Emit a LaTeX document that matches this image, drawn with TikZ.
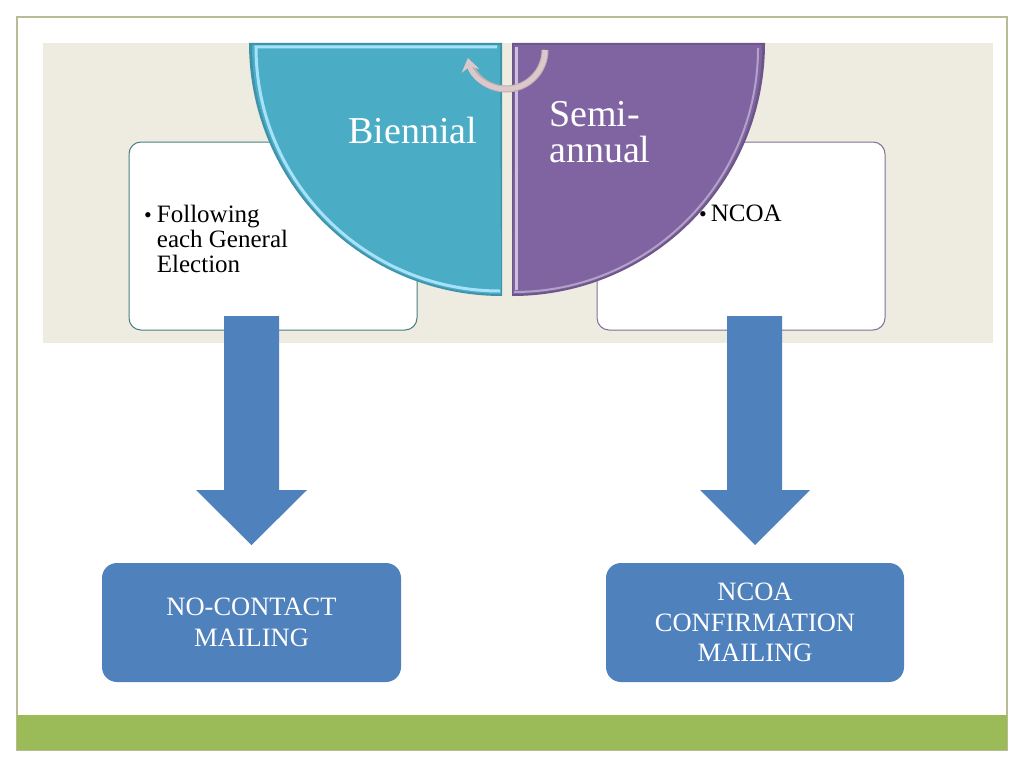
\documentclass[tikz,border=0pt]{standalone}
\usepackage{fontspec}
\setmainfont{Liberation Serif}
\usetikzlibrary{arrows.meta}
\definecolor{beige}{HTML}{EEECE1}
\definecolor{framec}{HTML}{B9BC92}
\definecolor{greenbar}{HTML}{9BBB59}
\definecolor{cyanq}{HTML}{4BACC6}
\definecolor{purpleq}{HTML}{8064A2}
\definecolor{blueb}{HTML}{4F81BD}
\definecolor{pinka}{HTML}{DCC8CA}
\tikzset{
  infobox/.style={draw,rounded corners=12pt,fill=white,line width=1pt},
  mailbox/.style={fill=blueb,rounded corners=15pt,text=white,align=center,
    font=\fontsize{26.5}{30.5}\selectfont},
  bigtext/.style={text=white,font=\fontsize{38}{36}\selectfont},
  blockarrow/.style={fill=blueb}
}
\begin{document}
\begin{tikzpicture}[x=1pt,y=-1pt]
    \useasboundingbox[fill=white] (0,0) rectangle (1024,768);
    \draw[framec,line width=1.2pt] (17,17) rectangle (1007,750);
    \fill[greenbar] (17,715) rectangle (1007,750);
    \fill[beige] (43,43) rectangle (993,343);
    % boxes behind the half disk
    \draw[infobox,draw=teal!45!gray] (129,142) rectangle (417,330);
    \draw[infobox,draw=purpleq!55!gray] (597,142) rectangle (885,330);
    \node[anchor=north west,inner sep=0pt,font=\fontsize{25}{25}\selectfont]
      (follow) at (144,205) {\begin{tabular}{@{}l@{\hspace{5pt}}l@{}}
        {\fontsize{22}{22}\selectfont\textbullet} & Following\\
        & each General\\
        & Election\end{tabular}};
    \node[anchor=north west,inner sep=0pt,font=\fontsize{25}{25}\selectfont]
      (ncoa) at (699,205) {{\fontsize{22}{22}\selectfont\textbullet}\hspace{4pt}NCOA};
    % half disk
    \fill[cyanq!85!black] (502,43) -- (249,43) arc[start angle=180,end angle=90,radius=253] -- cycle;
    \fill[cyanq] (500,45) -- (252,45) arc[start angle=180,end angle=90,radius=249] -- cycle;
    \draw[cyan!35!white,line width=3pt] (497,47) -- (256,47) arc[start angle=180,end angle=90,radius=244];
    \fill[purpleq!85!black] (512,43) -- (765,43) arc[start angle=0,end angle=90,radius=253] -- cycle;
    \fill[purpleq] (514,45) -- (762,45) arc[start angle=0,end angle=90,radius=249] -- cycle;
    \draw[purpleq!40!white,line width=3pt] (516,290) -- (516,47);
    \draw[purpleq!60!white,line width=2pt] (758,48) arc[start angle=0,end angle=90,radius=244];
    \node[bigtext] (biennial) at (413,131) {Biennial};
    \node[bigtext,align=left,anchor=north west,inner sep=0pt] (semi) at (549,101) {Semi-\\annual};
    % turning arrow
    \draw[pinka!65!gray,line width=7pt] (545,50) arc[start angle=0,end angle=150,radius=39];
    \draw[pinka,line width=5pt,-{Stealth[length=13pt,width=18pt]}]
      (545,50) arc[start angle=0,end angle=168,radius=39];
    % down arrows
    \fill[blockarrow] (224,316) -- (279,316) -- (279,490) -- (307,490) -- (251.5,545)
      -- (196,490) -- (224,490) -- cycle;
    \fill[blockarrow] (727,316) -- (782,316) -- (782,490) -- (810,490) -- (755,545)
      -- (700,490) -- (727,490) -- cycle;
    % mailings
    \node[mailbox,minimum width=299pt,minimum height=119pt] (nocontact) at (251.5,622.5)
      {NO-CONTACT\\MAILING};
    \node[mailbox,minimum width=298pt,minimum height=119pt] (confirm) at (755,622.5)
      {NCOA\\CONFIRMATION\\MAILING};
\end{tikzpicture}
\end{document}
